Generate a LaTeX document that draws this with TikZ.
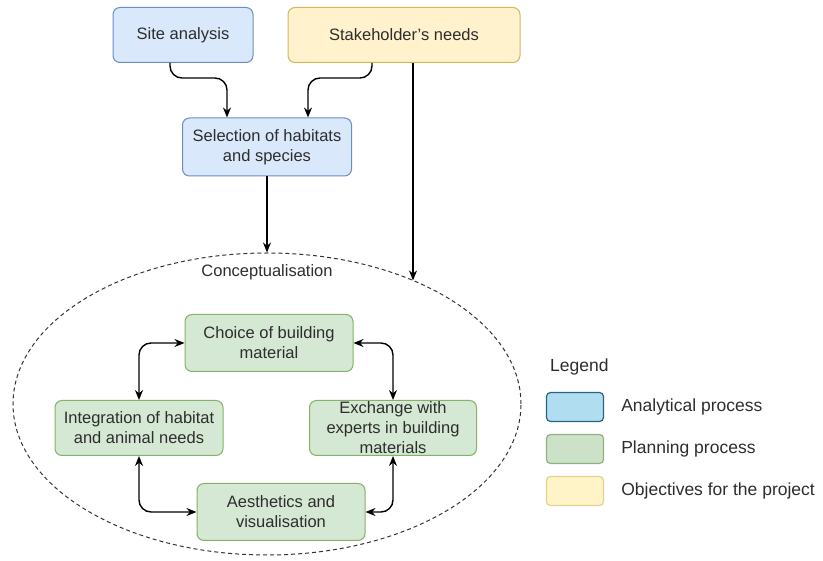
\documentclass[tikz,border=0pt]{standalone}
\usepackage{fontspec}
\setmainfont{Liberation Sans}
\usetikzlibrary{arrows.meta,positioning,shapes.geometric}

\begin{document}
\begin{tikzpicture}[
    x=1pt, y=-1pt,
    font=\fontsize{16.5}{20}\selectfont,
    >={Stealth[length=10pt,width=8pt]},
    box/.style={
        draw=#1line,
        fill=#1fill,
        rounded corners=7pt,
        minimum height=56pt,
        minimum width=168pt,
        align=center,
        inner sep=1pt,
        line width=1pt,
        text=textgray
    },
    box/.default=plan,
    keybox/.style={
        draw=#1keyline,
        fill=#1keyfill,
        rounded corners=4pt,
        minimum width=57pt,
        minimum height=29pt,
        line width=1.2pt
    },
    keytext/.style={font=\fontsize{17.5}{21}\selectfont, anchor=west, inner sep=0pt, text=textgray},
    flow/.style={->, line width=1.4pt, rounded corners=12pt},
    link/.style={<->, line width=1.4pt, rounded corners=12pt},
    phase/.style={ellipse, draw=black!80, dash pattern=on 4pt off 3pt, line width=1pt}
]

\definecolor{textgray}{RGB}{45,45,45}
\definecolor{analyticfill}{RGB}{218,232,252}
\definecolor{analyticline}{RGB}{108,142,191}
\definecolor{planfill}{RGB}{213,232,212}
\definecolor{planline}{RGB}{130,179,102}
\definecolor{objfill}{RGB}{255,242,204}
\definecolor{objline}{RGB}{214,182,86}
\definecolor{analytickeyfill}{RGB}{177,221,240}
\definecolor{analytickeyline}{RGB}{40,100,125}
\definecolor{plankeyfill}{RGB}{205,225,200}
\definecolor{plankeyline}{RGB}{140,180,125}
\definecolor{objkeyfill}{RGB}{255,244,200}
\definecolor{objkeyline}{RGB}{225,210,140}

\useasboundingbox (0,0) rectangle (823,561);

% inputs of the analysis
\node[box=analytic, minimum width=140pt, minimum height=55pt] (site) at (183,35) {Site analysis};
\node[box=obj, minimum width=232pt, minimum height=55pt] (stake) at (404,35) {Stakeholder's needs};
\node[box=analytic, minimum width=169pt, minimum height=58pt] (select) at (267,147) {Selection of habitats\\and species};

\draw[flow] ([xshift=-13pt]site.south) -- ++(0,15) -| ([xshift=-40pt]select.north);
\draw[flow] ([xshift=-32pt]stake.south) -- ++(0,15) -| ([xshift=41pt]select.north);

% conceptualisation phase
\node[phase, minimum width=508pt, minimum height=302pt] (concept) at (267,404) {};
\node[text=textgray] (conceptlabel) at (267,272) {Conceptualisation};

\coordinate (stakedrop) at ([xshift=9pt]stake.south);
\draw[flow] (stakedrop) -- (stakedrop |- concept.40);
\draw[flow] (select.south) -- (concept.north);

\node[box=plan, minimum height=57pt] (choice) at (269,343) {Choice of building\\material};
\node[box=plan, minimum height=55pt] (integ) at (139,428) {Integration of habitat\\and animal needs};
\node[box=plan, minimum width=167pt, minimum height=55pt] (exch) at (393,428) {Exchange with\\experts in building\\materials};
\node[box=plan, minimum height=57pt] (aesth) at (281,512) {Aesthetics and\\visualisation};

\draw[link] (choice.west) -| (integ.north);
\draw[link] (choice.east) -| (exch.north);
\draw[link] (integ.south) |- (aesth.west);
\draw[link] (exch.south) |- (aesth.east);

% legend
\node[keytext] (legendtitle) at (550,367) {Legend};
\node[keybox=analytic] (keyanalytic) at (575,407) {};
\node[keybox=plan] (keyplan) at (575,449) {};
\node[keybox=obj] (keyobj) at (575,491) {};
\node[keytext] at ([xshift=17pt]keyanalytic.east) {Analytical process};
\node[keytext] at ([xshift=17pt]keyplan.east) {Planning process};
\node[keytext] at ([xshift=17pt]keyobj.east) {Objectives for the project};

\end{tikzpicture}
\end{document}
